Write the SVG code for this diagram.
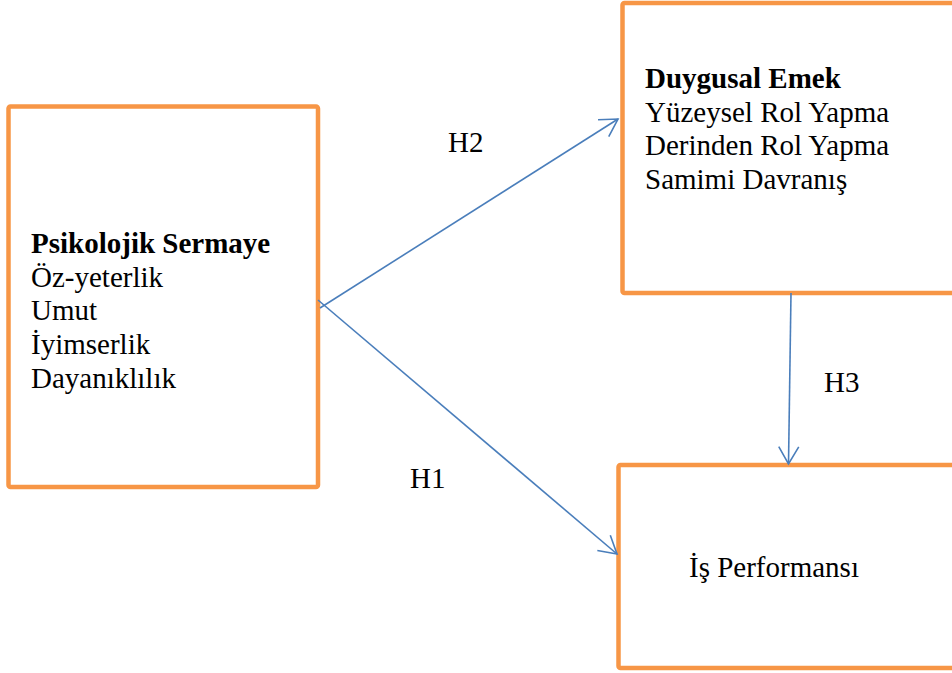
<svg xmlns="http://www.w3.org/2000/svg" width="952" height="673" viewBox="0 0 952 673">
<style>
.box{fill:#fff;stroke:#F79646;stroke-width:4.5}
.t{font-family:"Liberation Serif","Times New Roman",serif;font-size:29px;fill:#000}
.b{font-weight:bold}
.c{fill:none;stroke:#4A7EBB;stroke-width:1.6}
</style>
<defs>
<marker id="ah" markerUnits="userSpaceOnUse" viewBox="-20 -12 22 24" refX="0" refY="0" markerWidth="22" markerHeight="24" orient="auto">
<path d="M-17.3,-10 L0,0 L-17.3,10" fill="none" stroke="#4A7EBB" stroke-width="1.6"/>
</marker>
</defs>
<rect width="952" height="673" fill="#fff"/>
<g id="node-psikolojik">
<rect class="box" x="8.5" y="106.5" width="309.5" height="380.5" rx="2"/>
<text class="t" x="31" y="253"><tspan class="b">Psikolojik Sermaye</tspan><tspan x="31" dy="33.7">Öz-yeterlik</tspan><tspan x="31" dy="33.7">Umut</tspan><tspan x="31" dy="33.7">İyimserlik</tspan><tspan x="31" dy="33.7">Dayanıklılık</tspan></text>
</g>
<g id="node-duygusal">
<rect class="box" x="622.5" y="3" width="340" height="290" rx="2"/>
<text class="t" x="645" y="88"><tspan class="b">Duygusal Emek</tspan><tspan x="645" dy="33.5">Yüzeysel Rol Yapma</tspan><tspan x="645" dy="33.5">Derinden Rol Yapma</tspan><tspan x="645" dy="33.5">Samimi Davranış</tspan></text>
</g>
<g id="node-performans">
<rect class="box" x="618.5" y="465" width="345" height="203" rx="2"/>
<text class="t" x="689" y="577">İş Performansı</text>
</g>
<g id="connectors">
<line class="c" x1="320" y1="308" x2="618" y2="119" marker-end="url(#ah)"/>
<line class="c" x1="318" y1="300" x2="617" y2="554" marker-end="url(#ah)"/>
<line class="c" x1="791" y1="293" x2="788.5" y2="464" marker-end="url(#ah)"/>
<text class="t" x="448" y="152">H2</text>
<text class="t" x="410" y="488">H1</text>
<text class="t" x="824" y="392">H3</text>
</g>
</svg>
